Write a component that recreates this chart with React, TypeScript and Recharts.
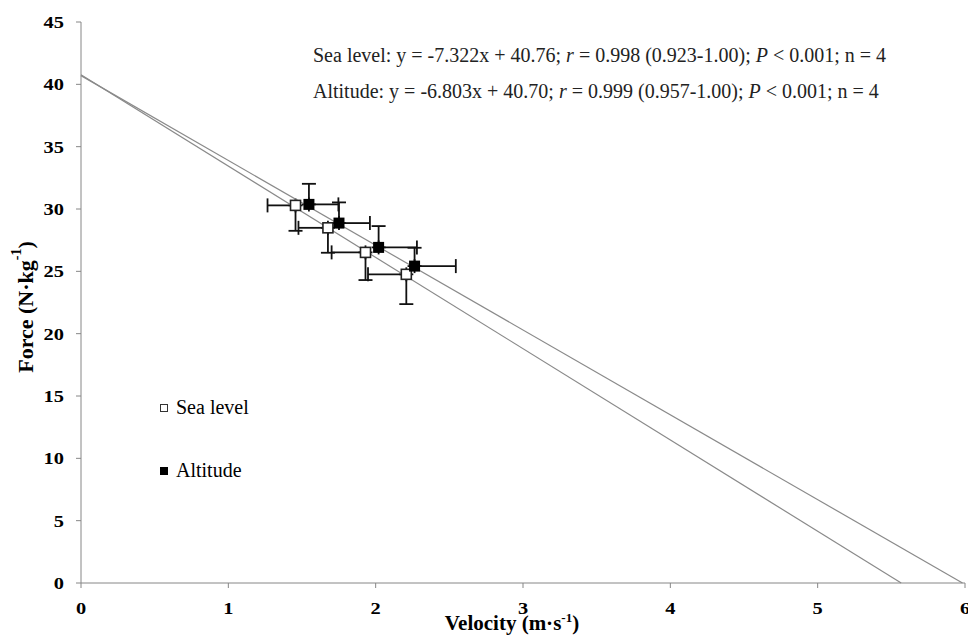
import {
  ComposedChart,
  Scatter,
  ErrorBar,
  XAxis,
  YAxis,
  Legend,
} from "recharts";

// measured means (velocity m/s, force N/kg) with one-sided SDs as drawn
const seaLevel = [
  { x: 1.456, y: 30.29, ex: [0.19, 0], ey: [2.04, 0] },
  { x: 1.676, y: 28.49, ex: [0.2, 0], ey: [2.0, 0] },
  { x: 1.931, y: 26.52, ex: [0.23, 0], ey: [2.22, 0] },
  { x: 2.208, y: 24.76, ex: [0.26, 0], ey: [2.39, 0] },
];

const altitude = [
  { x: 1.547, y: 30.37, ex: [0, 0.2], ey: [0, 1.65] },
  { x: 1.751, y: 28.87, ex: [0, 0.21], ey: [0, 1.66] },
  { x: 2.02, y: 26.92, ex: [0, 0.26], ey: [0, 1.71] },
  { x: 2.264, y: 25.42, ex: [0, 0.28], ey: [0, 1.47] },
];

// regression lines, from intercept to x-intercept
const seaLevelFit = [
  { x: 0, y: 40.76 },
  { x: 5.567, y: 0 },
];
const altitudeFit = [
  { x: 0, y: 40.7 },
  { x: 5.983, y: 0 },
];

const xTicks = [0, 1, 2, 3, 4, 5, 6];
const yTicks = [0, 5, 10, 15, 20, 25, 30, 35, 40, 45];

const serif = '"Liberation Serif", "Times New Roman", serif';
const axisGrey = "#868686";
const fitGrey = "#8a8a8a";

function OpenSquare(props: any) {
  const { cx, cy } = props;
  return (
    <rect x={cx - 5} y={cy - 5} width={10} height={10} fill="#fff" stroke="#222" strokeWidth={1.6} />
  );
}

function FilledSquare(props: any) {
  const { cx, cy } = props;
  return <rect x={cx - 5.5} y={cy - 5.5} width={11} height={11} fill="#000" />;
}

const NoDot = () => <g />;

// tick labels in the source are drawn a bit wide
function YTick(props: any) {
  const { x, y, payload } = props;
  return (
    <text
      transform={`translate(${x}, ${y}) scale(1.2, 1)`}
      textAnchor="end"
      dominantBaseline="central"
      fontFamily={serif}
      fontWeight="bold"
      fontSize={17}
      fill="#000"
    >
      {payload.value}
    </text>
  );
}

function XTick(props: any) {
  const { x, y, payload } = props;
  return (
    <text
      transform={`translate(${x}, ${y}) scale(1.2, 1)`}
      textAnchor="middle"
      dy="0.71em"
      fontFamily={serif}
      fontWeight="bold"
      fontSize={17}
      fill="#000"
    >
      {payload.value}
    </text>
  );
}

function YLabel() {
  const cy = 307;
  return (
    <text
      x={25}
      y={cy}
      transform={`rotate(-90, 25, ${cy})`}
      textAnchor="middle"
      dominantBaseline="central"
      fontFamily={serif}
      fontWeight="bold"
      fontSize={22}
      fill="#000"
    >
      Force (N·kg<tspan dy={-9} fontSize={14}>-1</tspan><tspan dy={9}>)</tspan>
    </text>
  );
}

function XLabel() {
  return (
    <text
      x={512}
      y={630}
      textAnchor="middle"
      fontFamily={serif}
      fontWeight="bold"
      fontSize={21}
      fill="#000"
    >
      Velocity (m·s<tspan dy={-8} fontSize={13}>-1</tspan><tspan dy={8}>)</tspan>
    </text>
  );
}

function LegendBox() {
  const row = { display: "flex", alignItems: "center", height: 23, fontFamily: serif, fontSize: 20, color: "#000", whiteSpace: "nowrap" as const };
  return (
    <div>
      <div style={row}>
        <span style={{ width: 6, height: 6, border: "1px solid #333", background: "#fff", display: "inline-block", marginRight: 8 }} />
        Sea level
      </div>
      <div style={{ ...row, marginTop: 40 }}>
        <span style={{ width: 8, height: 8, background: "#000", display: "inline-block", marginRight: 8 }} />
        Altitude
      </div>
    </div>
  );
}

export default function App() {
  const note = { position: "absolute" as const, left: 313, fontFamily: serif, fontSize: 20, lineHeight: "23px", color: "#222", whiteSpace: "nowrap" as const };
  return (
    <div style={{ position: "absolute", left: 0, top: 0, width: 968, height: 639, background: "#fff" }}>
      <ComposedChart width={968} height={639} margin={{ top: 22, right: 3, bottom: 0, left: 0 }}>
        <XAxis
          type="number"
          dataKey="x"
          domain={[0, 6]}
          ticks={xTicks}
          interval={0}
          height={56}
          stroke={axisGrey}
          tickSize={5}
          tickMargin={14}
          tick={<XTick />}
          label={<XLabel />}
        />
        <YAxis
          type="number"
          dataKey="y"
          domain={[0, 45]}
          ticks={yTicks}
          interval={0}
          width={81}
          stroke={axisGrey}
          tickSize={5}
          tickMargin={12}
          tick={<YTick />}
          label={<YLabel />}
        />
        <Legend
          layout="vertical"
          verticalAlign="middle"
          align="center"
          wrapperStyle={{ left: 160, top: 396, width: 140 }}
          content={() => <LegendBox />}
        />
        <Scatter
          data={seaLevelFit}
          line={{ stroke: fitGrey, strokeWidth: 1.2 }}
          shape={NoDot}
          legendType="none"
          isAnimationActive={false}
        />
        <Scatter
          data={altitudeFit}
          line={{ stroke: fitGrey, strokeWidth: 1.2 }}
          shape={NoDot}
          legendType="none"
          isAnimationActive={false}
        />
        <Scatter name="Sea level" data={seaLevel} shape={OpenSquare} isAnimationActive={false}>
          <ErrorBar dataKey="ex" direction="x" width={7} stroke="#111" strokeWidth={1.8} />
          <ErrorBar dataKey="ey" direction="y" width={7} stroke="#111" strokeWidth={1.8} />
        </Scatter>
        <Scatter name="Altitude" data={altitude} shape={FilledSquare} isAnimationActive={false}>
          <ErrorBar dataKey="ex" direction="x" width={7} stroke="#111" strokeWidth={1.8} />
          <ErrorBar dataKey="ey" direction="y" width={7} stroke="#111" strokeWidth={1.8} />
        </Scatter>
      </ComposedChart>
      <div style={{ ...note, top: 44 }}>
        Sea level: y = -7.322x + 40.76; <i>r</i> = 0.998 (0.923-1.00); <i>P</i> &lt; 0.001; n = 4
      </div>
      <div style={{ ...note, top: 80 }}>
        Altitude: y = -6.803x + 40.70; <i>r</i> = 0.999 (0.957-1.00); <i>P</i> &lt; 0.001; n = 4
      </div>
    </div>
  );
}
